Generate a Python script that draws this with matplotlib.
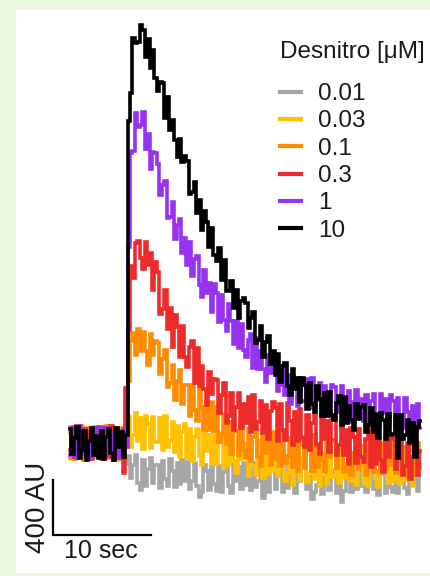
import numpy as np
import matplotlib
matplotlib.use('Agg')
from matplotlib import pyplot as plt
from matplotlib.patches import Rectangle

plt.rcParams['font.family'] = ['Liberation Sans', 'DejaVu Sans']

# time axis (sec) and the traces (AU, pre-stimulus baseline ~ 0)
t = np.arange(0, 36, 0.25)

gray = [117, -99, -36, 108, -81, 72, -126, 90, 45, -108, 99, -63,
        -90, 54, 117, -108, 126, -81, 63, -45, -117, 99, -18, -150,
        -92, -257, -158, -88, -291, -340, -120, -314, -189, -111, -288, -162,
        -161, -329, -129, -265, -313, -113, -201, -321, -145, -297, -121, -273,
        -139, -331, -275, -147, -315, -390, -355, -163, -203, -339, -155, -299,
        -346, -170, -354, -210, -162, -314, -362, -154, -274, -178, -338, -146,
        -303, -159, -343, -143, -319, -279, -167, -400, -183, -359, -207, -159,
        -338, -210, -154, -354, -146, -330, -202, -298, -362, -170, -274, -178,
        -172, -332, -228, -410, -356, -308, -180, -372, -244, -164, -340, -212,
        -199, -367, -167, -430, -351, -151, -239, -359, -183, -335, -159, -311,
        -161, -353, -297, -169, -337, -201, -377, -185, -225, -361, -177, -321,
        -358, -182, -366, -222, -174, -326, -374, -166, -286, -190, -350, -158]

yellow = [72, -117, 108, -45, -99, 126, 27, -108, 90, -81, 117, -54,
          99, -81, 36, 117, -108, -54, 90, -126, 18, 108, -90, 0,
          190, -30, 55, 220, 15, 185, -40, 195, 140, -35, 190, 5,
          10, 185, -50, 195, -30, 15, 150, -65, 120, -105, 80, 135,
          -110, 105, -130, 45, 100, -95, -160, 95, -60, 55, -150, 85,
          -150, 5, 70, -184, 72, -162, -6, -130, -215, 20, -115, 0,
          -25, -240, 5, -168, -230, 16, -98, -252, -35, -228, -11, -204,
          -37, -240, -113, -26, -278, -220, -62, -304, -146, -48, -270, -112,
          -45, -285, -215, -55, -265, -95, -315, -75, -125, -295, -65, -245,
          -238, -58, -288, -38, -258, -208, -68, -278, -88, -308, -118, -58,
          -300, -80, -310, -130, -70, -260, -320, -60, -210, -90, -290, -50,
          -280, -120, -50, -300, -40, -270, -110, -230, -310, -70, -200, -80]

orange = [-108, 90, -117, 45, 99, -72, -126, 108, -27, 81, -99, 117,
          -54, 108, -99, 126, -72, -27, 99, -90, 81, -117, 54, 300,
          450, 740, 800, 640, 830, 670, 810, 670, 570, 790, 640, 740,
          725, 500, 610, 678, 405, 437, 570, 310, 450, 528, 285, 425,
          425, 195, 425, 238, 160, 392, 265, 98, 300, 92, 295, 90,
          265, 10, 65, 212, -10, 150, -80, 150, 90, -88, 135, -53,
          -110, 104, -133, 41, 95, -101, -168, 86, -70, 46, -158, 78,
          -115, 62, -170, 77, -145, -98, 40, -173, 15, -207, -18, 41,
          -182, -22, 48, -202, 58, -172, -12, -132, -212, 28, -102, 18,
          20, -180, -50, 40, -210, -150, 10, -230, -70, 30, -190, -30,
          -20, -230, 20, -150, -210, 40, -70, -220, 0, -190, 30, -160,
          20, -220, -150, 10, -200, -30, -250, -10, -60, -230, 0, -180]

red = [-54, 108, -99, 126, -72, -27, 99, -90, 81, -117, 54, 108,
       72, -117, 108, -45, -99, 126, 27, -108, 90, -81, -220, 400,
       818, 1290, 1197, 1455, 1470, 1342, 1266, 1460, 1297, 1379, 1109, 1313,
       1243, 939, 976, 1112, 831, 978, 696, 930, 845, 628, 851, 623,
       550, 696, 743, 438, 694, 411, 557, 395, 277, 516, 353, 465,
       456, 221, 349, 433, 145, 199, 365, 91, 259, 362, 112, 281,
       144, 337, 79, 349, 102, 154, 304, 70, 275, 29, 235, 298,
       251, 15, 284, 91, 19, 288, 160, -11, 225, 12, 250, 37,
       -32, 206, -51, 143, 206, -8, -79, 202, 32, 157, -69, 189,
       183, -87, -16, 154, -84, 97, -151, 106, 45, -147, 101, -102,
       -140, 31, 103, -177, 104, -154, 17, -120, -213, 47, -100, 28,
       36, -188, -49, 46, -232, -170, 2, -265, -93, 14, -231, -59]

purple = [-90, 54, 117, -108, 126, -81, 63, -45, -117, 99, -18, 90,
          117, -99, -36, 108, -81, 72, -126, 90, 45, -108, 99, -30,
          1426, 2108, 2121, 2400, 2298, 2313, 2409, 2140, 2246, 1993, 2114, 2108,
          2029, 1804, 1876, 1907, 1637, 1646, 1750, 1484, 1583, 1628, 1385, 1494,
          1297, 1460, 1213, 1340, 1359, 1148, 1059, 1258, 1088, 1166, 956, 1157,
          1092, 878, 1078, 895, 811, 1011, 887, 722, 890, 694, 867, 676,
          625, 749, 792, 547, 766, 539, 668, 535, 443, 639, 507, 595,
          607, 376, 424, 553, 349, 492, 284, 485, 430, 270, 469, 302,
          306, 463, 251, 474, 273, 313, 434, 242, 411, 208, 374, 423,
          409, 224, 336, 412, 182, 234, 375, 156, 298, 384, 182, 322,
          157, 352, 143, 303, 354, 180, 124, 356, 218, 321, 138, 350,
          302, 108, 328, 170, 111, 326, 222, 80, 270, 94, 287, 111]

black = [99, -81, 36, 117, -108, -54, 90, -126, 18, 108, -90, 54,
         -108, 90, -117, 45, 99, -72, -126, 108, -27, 81, -99, 60,
         2344, 2546, 2946, 2910, 2912, 3040, 3004, 2804, 2940, 2728, 2854, 2652,
         2560, 2628, 2619, 2364, 2517, 2278, 2346, 2200, 2081, 2208, 2044, 2085,
         2054, 1812, 1823, 1896, 1673, 1764, 1548, 1690, 1605, 1424, 1563, 1364,
         1322, 1416, 1187, 1332, 1106, 1106, 1178, 985, 1112, 906, 1033, 1051,
         1018, 833, 912, 954, 729, 752, 850, 628, 731, 781, 575, 668,
         494, 645, 441, 560, 583, 411, 348, 536, 391, 472, 297, 474,
         424, 246, 436, 285, 227, 417, 319, 194, 360, 198, 369, 207,
         170, 288, 339, 129, 332, 143, 266, 165, 96, 283, 174, 260,
         279, 82, 133, 256, 83, 214, 33, 215, 170, 29, 208, 59,
         62, 201, -110, 207, 26, 61, 168, 0, 147, -100, 118, 161]

doses = ['0.01', '0.03', '0.1', '0.3', '1', '10']
traces = [gray, yellow, orange, red, purple, black]
colors = ['#a6a6a6', '#ffc000', '#ff8c00', '#ee2b2b', '#9632f0', '#000000']

fig = plt.figure(figsize=(4.31, 5.76), dpi=100)
fig.patch.set_facecolor('#e9f9df')
fig.patches.append(Rectangle((16/431, 3/576), 1 - 16/431, 563/576,
                             transform=fig.transFigure, facecolor='white',
                             edgecolor='none', zorder=-10))

ax = fig.add_axes([0, 0, 1, 1])
ax.set_facecolor('none')
ax.axis('off')
ax.set_xlim(-7.14, 36.84)
ax.set_ylim(-967, 3221)

for y, c, d in zip(traces, colors, doses):
    ax.plot(t, y, color=c, lw=2.6, drawstyle='steps-mid', label=d,
            solid_joinstyle='miter')

# scale bar: 10 sec / 400 AU
bar_sec = 10
bar_au = 400
x0, y0 = -1.73, -669
ax.plot([x0, x0, x0 + bar_sec], [y0 + bar_au, y0, y0], color='black', lw=1.6,
        solid_joinstyle='miter')
ax.text(x0 + bar_sec / 2 - 0.15, y0 - 28, '10 sec', ha='center', va='top',
        fontsize=18, color='#1a1a1a')
ax.text(x0 - 0.2, y0 + bar_au / 2, '400 AU', ha='right', va='center', rotation=90,
        fontsize=20, color='#1a1a1a')

leg = ax.legend(loc='upper left', bbox_to_anchor=(280/431, 1 - 83/576),
                bbox_transform=fig.transFigure, frameon=False, fontsize=17.5,
                handlelength=0.87, handletextpad=0.7, labelspacing=0.22,
                borderpad=0, borderaxespad=0)
for h in leg.legend_handles:
    h.set_linewidth(3)
for txt in leg.get_texts():
    txt.set_color('#1a1a1a')
fig.text(280/431, 1 - 52/576, 'Desnitro [μM]', ha='left', va='center',
         fontsize=17.5, color='#1a1a1a')

fig.savefig('out.png', dpi=100, facecolor=fig.get_facecolor())
